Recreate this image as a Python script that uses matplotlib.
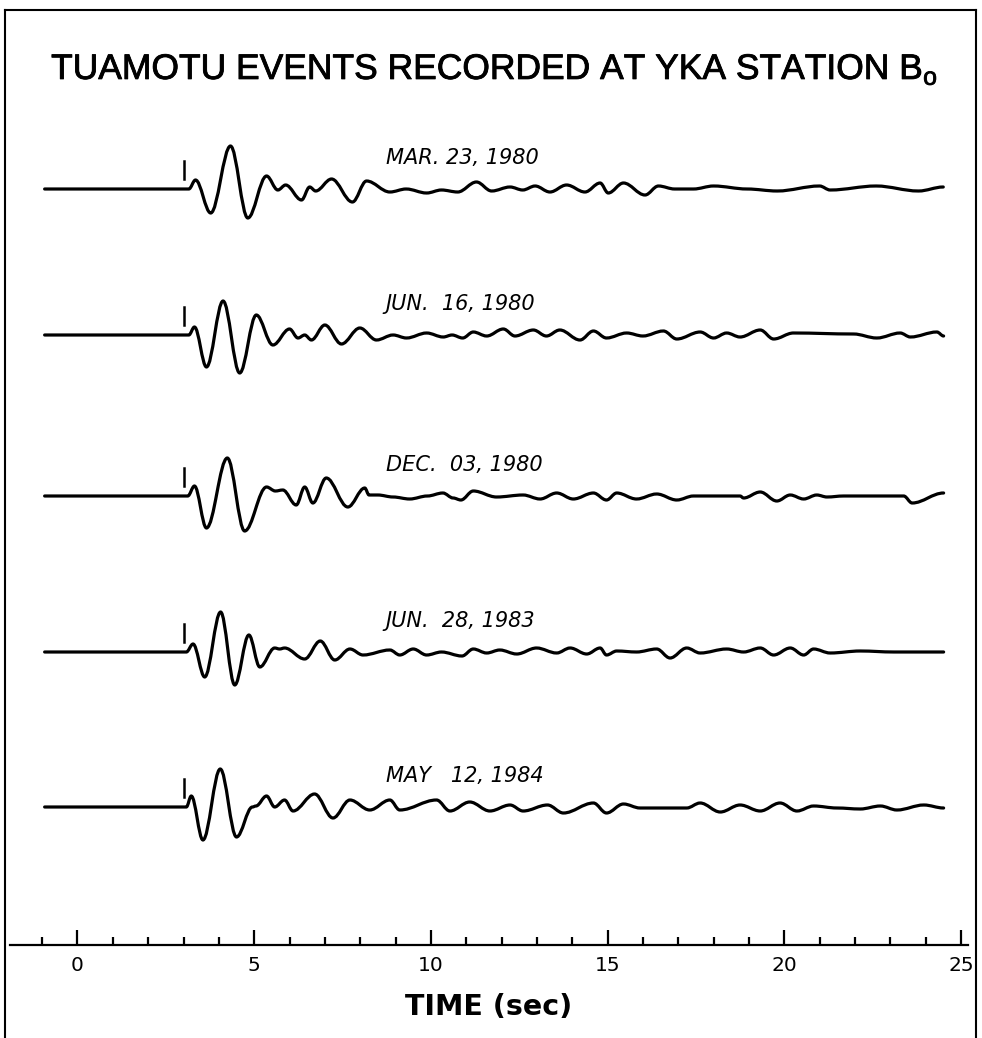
import matplotlib
matplotlib.use("Agg")
import matplotlib.pyplot as plt
import matplotlib.patheffects as pe
from matplotlib.path import Path
from matplotlib.patches import PathPatch
from matplotlib.ticker import MultipleLocator
from matplotlib import font_manager

# ---- data (time in sec, amplitude in plot units) ----
event_dates = ["MAR. 23, 1980", "JUN.  16, 1980", "DEC.  03, 1980",
               "JUN.  28, 1983", "MAY   12, 1984"]

t_mar80 = [-0.93, 3.15, 3.34, 3.77, 4.33, 4.82, 5.35, 5.67, 5.89, 6.34, 6.57, 6.74, 7.19, 7.78,
           8.18, 8.84, 9.30, 9.88, 10.30, 10.76, 11.29, 11.72, 12.24, 12.60, 12.95, 13.37, 13.84,
           14.36, 14.79, 15.02, 15.45, 16.06, 16.44, 16.90, 17.43, 18.00, 18.95, 19.80, 21.00,
           21.30, 22.60, 23.80, 24.50]
a_mar80 = [0, 0, 9, -24, 43, -29, 13, -1, 4, -11, 2, -2, 10, -13, 8, -3, 0, -4, -1, -3, 7, -2,
           2, -1, 3, -3, 4, -3, 6, -4, 6, -6, 3, 0, 0, 3, 0, -2, 3, -1, 3, -2, 2]

t_jun80 = [-0.93, 3.15, 3.31, 3.65, 4.12, 4.59, 5.06, 5.53, 6.00, 6.24, 6.43, 6.62, 7.00, 7.47,
           7.99, 8.46, 8.93, 9.31, 9.88, 10.35, 10.60, 10.90, 11.20, 11.58, 12.05, 12.38, 12.90,
           13.27, 13.65, 14.22, 14.60, 14.97, 15.54, 16.00, 16.58, 16.96, 17.62, 18.00, 18.37,
           18.75, 19.32, 19.70, 20.26, 21.96, 22.62, 23.28, 23.57, 24.32, 24.51]
a_jun80 = [0, 0, 8, -32, 34, -38, 20, -10, 6, -3, 0, -5, 10, -9, 7, -5, 0, -3, 2, -2, 0, -3, 3,
           -1, 6, -1, 5, -1, 5, -5, 4, -3, 2, -1, 4, -4, 3, -3, 2, -2, 5, -4, 2, 1, -3, 2, -2, 3, -1]

t_dec80 = [-0.93, 3.12, 3.31, 3.65, 4.24, 4.73, 5.35, 5.60, 5.81, 6.19, 6.43, 6.66, 7.04, 7.65,
           8.13, 8.25, 8.50, 8.93, 9.40, 9.90, 10.34, 10.63, 10.85, 11.20, 11.86, 12.61, 13.09,
           13.56, 14.03, 14.60, 14.97, 15.26, 15.82, 16.39, 16.96, 17.43, 18.75, 18.85, 19.32,
           19.79, 20.17, 20.55, 20.92, 21.21, 21.68, 23.38, 23.62, 24.51]
a_dec80 = [0, 0, 10, -32, 38, -35, 9, 5, 6, -9, 9, -7, 18, -11, 8, 1, 1, -1, -3, 0, 3, -2, -4,
           5, -1, 1, -3, 3, -3, 3, -4, 3, -3, 2, -4, 0, 0, -2, 4, -5, 1, -3, 1, -1, 0, 0, -7, 3]

t_jun83 = [-0.93, 3.08, 3.27, 3.60, 4.05, 4.45, 4.85, 5.16, 5.58, 5.72, 5.86, 6.43, 6.87, 7.28,
           7.71, 8.08, 8.84, 9.12, 9.50, 9.88, 10.30, 10.88, 11.20, 11.58, 11.95, 12.43, 12.99,
           13.56, 13.94, 14.41, 14.79, 14.97, 15.26, 15.82, 16.39, 16.77, 17.24, 17.62, 18.37,
           18.85, 19.32, 19.70, 20.17, 20.55, 20.83, 21.30, 22.15, 23.10, 24.51]
a_jun83 = [0, 0, 8, -25, 40, -33, 17, -15, 4, 3, 4, -7, 11, -8, 3, -3, 2, -3, 3, -3, 0, -4, 3,
           -1, 2, -2, 4, -1, 4, -2, 4, -3, 1, 0, 3, -6, 4, -1, 3, 0, 4, -3, 4, -3, 3, -1, 1, 0, 0]

t_may84 = [-0.93, 3.08, 3.22, 3.55, 4.04, 4.50, 4.95, 5.05, 5.35, 5.58, 5.86, 6.10, 6.71, 7.23,
           7.71, 8.27, 8.84, 9.12, 10.16, 10.54, 11.10, 11.67, 12.24, 12.61, 13.30, 13.75, 14.60,
           14.97, 15.45, 15.92, 17.24, 17.62, 18.19, 18.75, 19.32, 19.88, 20.36, 20.83, 21.49,
           22.15, 22.72, 23.19, 23.95, 24.51]
a_may84 = [0, 0, 11, -33, 38, -30, 0, 1, 11, 0, 7, -4, 13, -11, 7, -3, 7, -3, 7, -4, 5, -4, 2,
           -4, 2, -6, 4, -6, 3, -1, -1, 4, -5, 2, -4, 4, -4, 1, -1, -2, 1, -3, 2, -1]

pick_time = 3.0
time_ticks = [0, 5, 10, 15, 20, 25]

traces = [(t_mar80, a_mar80), (t_jun80, a_jun80), (t_dec80, a_dec80),
          (t_jun83, a_jun83), (t_may84, a_may84)]
baselines = [756, 610, 449, 293, 138]   # vertical offset of each trace


def trace_path(t, a, base):
    # smooth curve through the picked extrema (flat tangent at each one)
    verts = [(t[0], base + a[0])]
    codes = [Path.MOVETO]
    for i in range(1, len(t)):
        dt = t[i] - t[i - 1]
        verts += [(t[i - 1] + 0.36 * dt, base + a[i - 1]),
                  (t[i] - 0.36 * dt, base + a[i]),
                  (t[i], base + a[i])]
        codes += [Path.CURVE4] * 3
    return Path(verts, codes)


installed = {f.name for f in font_manager.fontManager.ttflist}
title_font = "Liberation Sans Narrow" if "Liberation Sans Narrow" in installed else "Liberation Sans"

fig = plt.figure(figsize=(9.82, 10.38), dpi=100)
ax = fig.add_axes([10 / 982, 93 / 1038, 958 / 982, 885 / 1038])
ax.set_xlim(-1.91, 25.20)
ax.set_ylim(0, 885)

for (t, a), base in zip(traces, baselines):
    ax.add_patch(PathPatch(trace_path(t, a, base), facecolor="none", edgecolor="black",
                           lw=2.3, capstyle="round", joinstyle="round"))
    ax.plot([pick_time, pick_time], [base + 10, base + 28], color="black", lw=1.8)

for label, base in zip(event_dates, baselines):
    ax.text(8.72, base + 25, label, fontsize=15, style="italic", ha="left", va="baseline",
            family="DejaVu Sans")

for side in ["top", "left", "right"]:
    ax.spines[side].set_visible(False)
ax.spines["bottom"].set_linewidth(1.6)
ax.set_yticks([])
ax.set_xticks(time_ticks)
ax.set_xticklabels([str(v) for v in time_ticks])
ax.xaxis.set_minor_locator(MultipleLocator(1))
ax.tick_params(axis="x", which="major", direction="in", length=11, width=1.6, pad=8,
               labelsize=14.5)
ax.tick_params(axis="x", which="minor", direction="in", length=5.5, width=1.6)
ax.set_xlabel("TIME (sec)", fontsize=20.5, fontweight="bold", labelpad=13)

fig.text(0.503, 1 - 70 / 1038, "TUAMOTU EVENTS RECORDED AT YKA STATION B$_\\mathregular{o}$",
         fontsize=25.5, family=title_font, ha="center", va="center",
         path_effects=[pe.withStroke(linewidth=0.6, foreground="black")])

# frame around the figure
fig.add_artist(plt.Line2D([5 / 982, 5 / 982], [0, 1 - 10 / 1038], color="black", lw=1.5))
fig.add_artist(plt.Line2D([976 / 982, 976 / 982], [0, 1 - 10 / 1038], color="black", lw=1.5))
fig.add_artist(plt.Line2D([5 / 982, 976 / 982], [1 - 10 / 1038, 1 - 10 / 1038], color="black", lw=1.5))

fig.savefig("out.png", dpi=100)
